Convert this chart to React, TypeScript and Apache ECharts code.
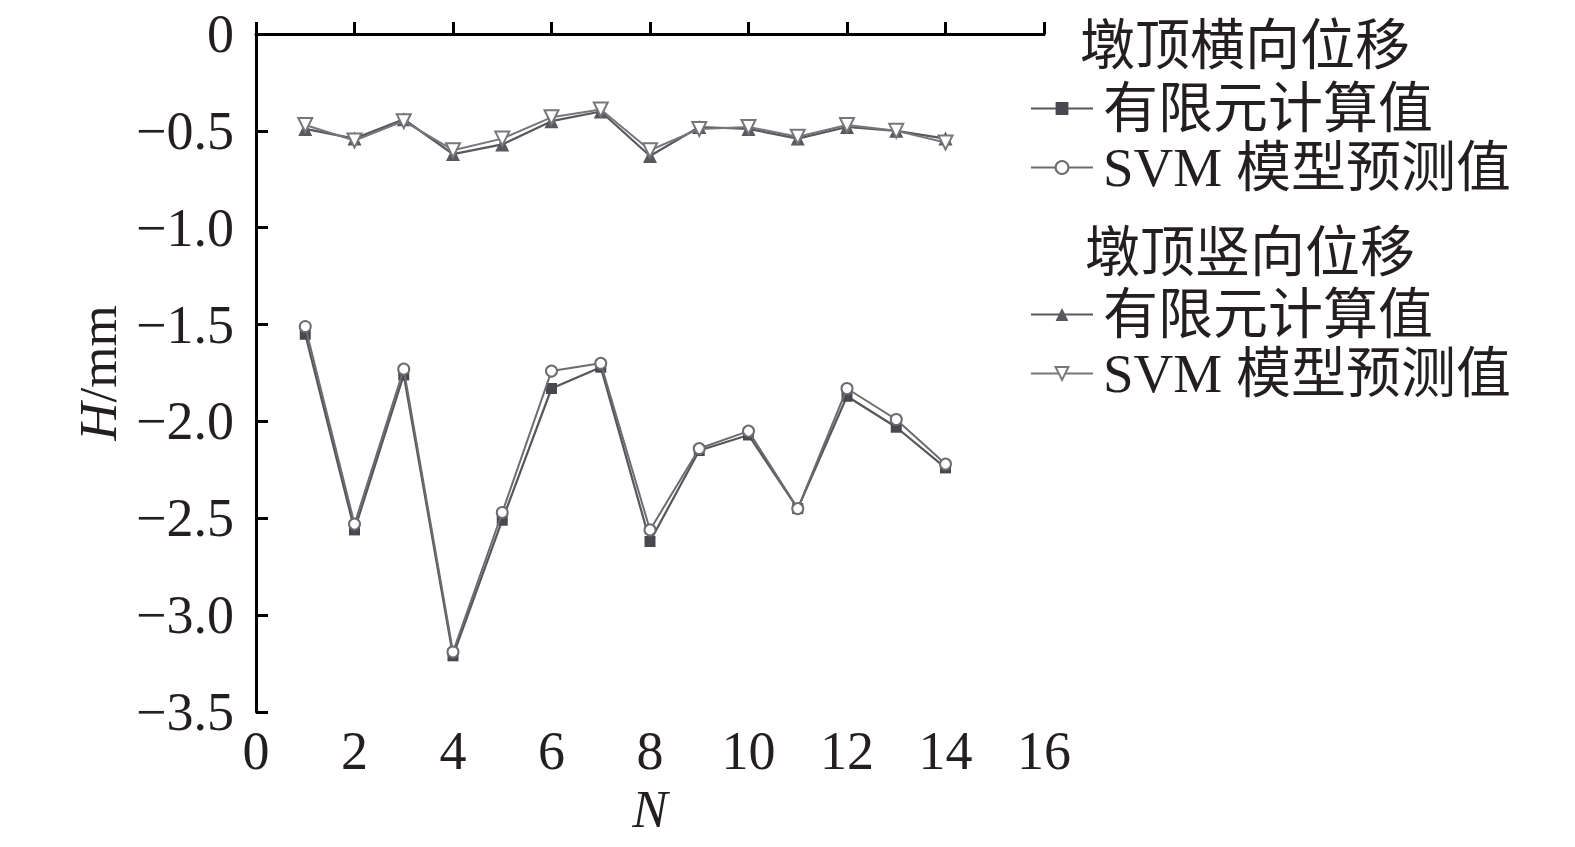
import React, { useEffect, useRef } from "react";
import * as echarts from "echarts";

const N_VALUES = [1, 2, 3, 4, 5, 6, 7, 8, 9, 10, 11, 12, 13, 14];
// 墩顶横向位移 (plotted as the lower pair in the reference)
const lateralFE = [-1.55, -2.56, -1.76, -3.21, -2.51, -1.83, -1.72, -2.62, -2.15, -2.07, -2.45, -1.87, -2.03, -2.24];
const lateralSVM = [-1.51, -2.53, -1.73, -3.19, -2.47, -1.74, -1.70, -2.56, -2.14, -2.05, -2.45, -1.83, -1.99, -2.22];
// 墩顶竖向位移 (upper pair)
const verticalFE = [-0.49, -0.54, -0.44, -0.62, -0.57, -0.45, -0.40, -0.63, -0.48, -0.49, -0.54, -0.48, -0.50, -0.54];
const verticalSVM = [-0.47, -0.55, -0.45, -0.60, -0.54, -0.43, -0.39, -0.60, -0.49, -0.48, -0.53, -0.47, -0.50, -0.56];

const X_TICKS = [0, 2, 4, 6, 8, 10, 12, 14, 16];
const Y_TICKS = [0, -0.5, -1.0, -1.5, -2.0, -2.5, -3.0, -3.5];

const HEADER_LATERAL = "墩顶横向位移";
const HEADER_VERTICAL = "墩顶竖向位移";
const LABEL_FE = "有限元计算值";
const LABEL_SVM = "SVM 模型预测值";

const FONT = "'Liberation Serif', 'Times New Roman', 'Noto Sans CJK SC', serif";
const TEXT = "#231f20";

const pairs = (ys: number[]) => N_VALUES.map((x, i) => [x, ys[i]]);

export default function App() {
  const ref = useRef<HTMLDivElement>(null);
  useEffect(() => {
    if (!ref.current) return;
    const chart = echarts.init(ref.current, undefined, { renderer: "svg" });
    const nameMap: Record<string, string> = {
      latFE: LABEL_FE,
      latSVM: LABEL_SVM,
      verFE: LABEL_FE,
      verSVM: LABEL_SVM,
    };
    const fmt = (v: number) => (v === 0 ? "0" : "\u2212" + Math.abs(v).toFixed(1));
    const legendBase = {
      orient: "vertical",
      left: 1025,
      itemWidth: 62,
      itemHeight: 16,
      itemGap: 4,
      selectedMode: false,
      formatter: (n: string) => nameMap[n],
      textStyle: { fontFamily: FONT, fontSize: 55, color: TEXT, padding: [0, 0, 0, 5] },
    };
    chart.setOption({
      animation: false,
      backgroundColor: "#ffffff",
      grid: { left: 256, right: 531, top: 34, bottom: 135 },
      xAxis: {
        type: "value",
        min: X_TICKS[0],
        max: X_TICKS[X_TICKS.length - 1],
        interval: 2,
        name: "N",
        nameLocation: "middle",
        nameGap: 67,
        nameTextStyle: { fontFamily: FONT, fontSize: 53, fontStyle: "italic", color: TEXT },
        axisLine: { lineStyle: { color: "#000", width: 3 } },
        axisTick: { inside: true, length: 12, lineStyle: { color: "#000", width: 3 } },
        axisLabel: { fontFamily: FONT, fontSize: 54, color: TEXT, margin: 12 },
        splitLine: { show: false },
      },
      yAxis: {
        type: "value",
        min: Y_TICKS[Y_TICKS.length - 1],
        max: Y_TICKS[0],
        interval: 0.5,
        name: "{i|H}/mm",
        nameLocation: "middle",
        nameRotate: 90,
        nameGap: 132,
        nameTextStyle: {
          fontFamily: FONT,
          fontSize: 53,
          color: TEXT,
          rich: { i: { fontFamily: FONT, fontSize: 53, fontStyle: "italic", color: TEXT } },
        },
        axisLine: { lineStyle: { color: "#000", width: 3 } },
        axisTick: { inside: true, length: 12, lineStyle: { color: "#000", width: 3 } },
        axisLabel: { fontFamily: FONT, fontSize: 54, color: TEXT, margin: 22, formatter: fmt },
        splitLine: { show: false },
      },
      legend: [
        { ...legendBase, data: ["latFE", "latSVM"], top: 76 },
        { ...legendBase, data: ["verFE", "verSVM"], top: 282 },
      ],
      graphic: [
        {
          type: "text",
          left: 1080,
          top: 18,
          style: { text: HEADER_LATERAL, fontFamily: FONT, fontSize: 55, fill: TEXT },
        },
        {
          type: "text",
          left: 1085,
          top: 225,
          style: { text: HEADER_VERTICAL, fontFamily: FONT, fontSize: 55, fill: TEXT },
        },
      ],
      series: [
        {
          name: "latFE",
          type: "line",
          data: pairs(lateralFE),
          symbol: "rect",
          symbolSize: 11,
          lineStyle: { color: "#56565b", width: 2.2 },
          itemStyle: { color: "#48484e", borderColor: "#48484e", borderWidth: 0 },
          z: 2,
        },
        {
          name: "latSVM",
          type: "line",
          data: pairs(lateralSVM),
          symbol: "circle",
          symbolSize: 11,
          lineStyle: { color: "#6c6c70", width: 2 },
          itemStyle: { color: "#ffffff", borderColor: "#6c6c70", borderWidth: 2 },
          z: 3,
        },
        {
          name: "verFE",
          type: "line",
          data: pairs(verticalFE),
          symbol: "triangle",
          symbolSize: 14,
          lineStyle: { color: "#58585d", width: 2.2 },
          itemStyle: { color: "#58585d", borderColor: "#58585d", borderWidth: 0 },
          z: 2,
        },
        {
          name: "verSVM",
          type: "line",
          data: pairs(verticalSVM),
          symbol: "triangle",
          symbolRotate: 180,
          symbolSize: 14,
          lineStyle: { color: "#77777b", width: 2 },
          itemStyle: { color: "#ffffff", borderColor: "#77777b", borderWidth: 2 },
          z: 3,
        },
      ],
    });
    return () => chart.dispose();
  }, []);
  return (
    <div
      ref={ref}
      style={{ position: "absolute", left: 0, top: 0, width: 1575, height: 847 }}
    />
  );
}
